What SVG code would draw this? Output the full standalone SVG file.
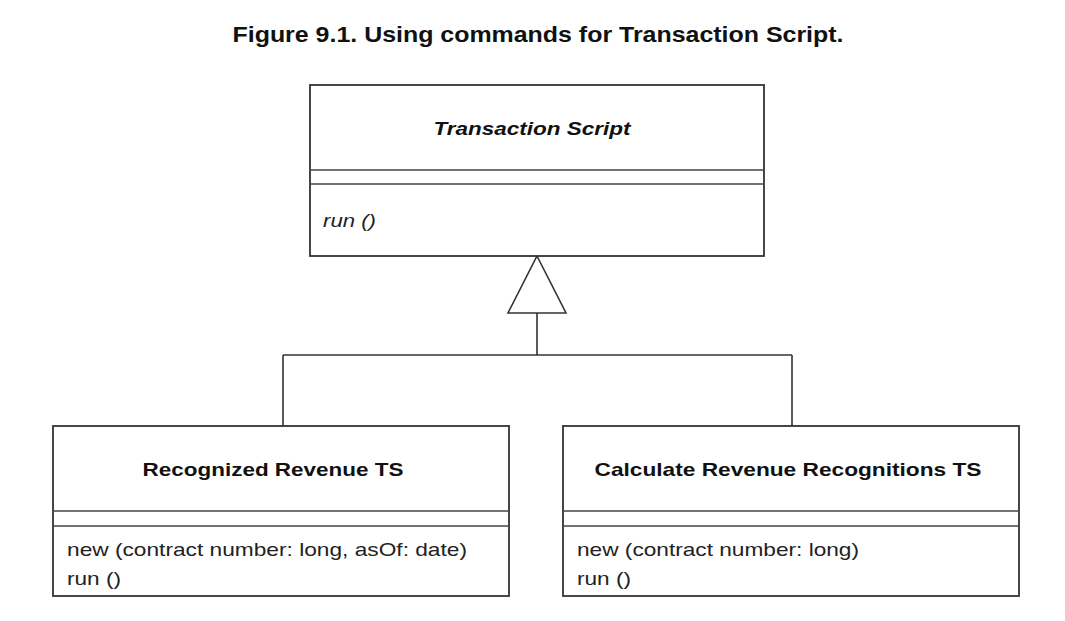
<svg xmlns="http://www.w3.org/2000/svg" width="1065" height="621" viewBox="0 0 1065 621">
<style>
.box{fill:#fff;stroke:#333;stroke-width:1.8}
.sep{stroke:#444;stroke-width:1.6}
.conn{fill:none;stroke:#333;stroke-width:1.6}
.head{fill:#fff;stroke:#333;stroke-width:1.6}
.t{font-family:"Liberation Sans",Arial,sans-serif;fill:#111}
.title{font-size:22px;font-weight:bold;text-anchor:middle}
.cls{font-size:19px;font-weight:bold;text-anchor:middle}
.op{font-size:19px;fill:#222}
</style>
<rect width="1065" height="621" fill="#fff"/>
<text class="t title" x="538" y="42" textLength="611" lengthAdjust="spacingAndGlyphs">Figure 9.1. Using commands for Transaction Script.</text>
<g id="connectors">
<path class="conn" d="M537 313 V355 M283 355 H792 M283 355 V426 M792 355 V426"/>
<polygon class="head" points="537,256 566,313 508,313"/>
</g>
<g id="transaction-script">
<rect class="box" x="310" y="85" width="454" height="171"/>
<line class="sep" x1="310" y1="170" x2="764" y2="170"/>
<line class="sep" x1="310" y1="184" x2="764" y2="184"/>
<text class="t cls" x="532" y="135" font-style="italic" textLength="197" lengthAdjust="spacingAndGlyphs">Transaction Script</text>
<text class="t op" x="323" y="227" font-style="italic" textLength="53" lengthAdjust="spacingAndGlyphs">run ()</text>
</g>
<g id="recognized-revenue-ts">
<rect class="box" x="53" y="426" width="456" height="170"/>
<line class="sep" x1="53" y1="511" x2="509" y2="511"/>
<line class="sep" x1="53" y1="526" x2="509" y2="526"/>
<text class="t cls" x="273" y="476" textLength="261" lengthAdjust="spacingAndGlyphs">Recognized Revenue TS</text>
<text class="t op" x="67" y="556" textLength="400" lengthAdjust="spacingAndGlyphs">new (contract number: long, asOf: date)</text>
<text class="t op" x="67" y="585" textLength="54" lengthAdjust="spacingAndGlyphs">run ()</text>
</g>
<g id="calculate-revenue-recognitions-ts">
<rect class="box" x="563" y="426" width="456" height="170"/>
<line class="sep" x1="563" y1="511" x2="1019" y2="511"/>
<line class="sep" x1="563" y1="526" x2="1019" y2="526"/>
<text class="t cls" x="788" y="476" textLength="387" lengthAdjust="spacingAndGlyphs">Calculate Revenue Recognitions TS</text>
<text class="t op" x="577" y="556" textLength="282" lengthAdjust="spacingAndGlyphs">new (contract number: long)</text>
<text class="t op" x="577" y="585" textLength="54" lengthAdjust="spacingAndGlyphs">run ()</text>
</g>
</svg>
